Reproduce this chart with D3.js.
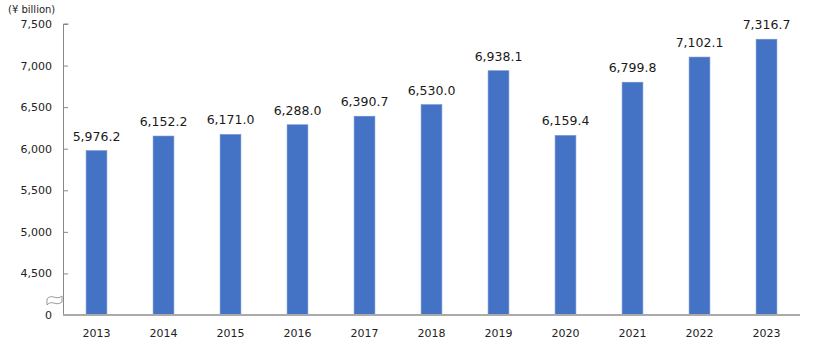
<!DOCTYPE html>
<html><head><meta charset="utf-8">
<script src="https://cdn.jsdelivr.net/npm/d3@7"></script>
<style>body{margin:0;background:#fff}svg{display:block}text{font-family:"DejaVu Sans",Verdana,sans-serif}</style>
</head><body>
<svg id="c" width="814" height="348"></svg>
<script>
const years = ["2013","2014","2015","2016","2017","2018","2019","2020","2021","2022","2023"];
const sales = [5976.2,6152.2,6171.0,6288.0,6390.7,6530.0,6938.1,6159.4,6799.8,7102.1,7316.7];
const yTicks = [4500,5000,5500,6000,6500,7000,7500];
const unitLabel = "(¥ billion)";

(function(){
const svg = d3.select("#c");
const mL = 63, mR = 800, mT = 24, mB = 315;
const x = d3.scaleBand().domain(years).range([mL, mR]).paddingInner(0.69).paddingOuter(0.345);
const y = d3.scaleLinear().domain([4000, 7500]).range([mB, mT]);
const fmt = d3.format(",.1f");

svg.append("g").selectAll("rect").data(sales).join("rect")
  .attr("x", (d,i)=>x(years[i]))
  .attr("width", x.bandwidth())
  .attr("y", d=>y(d))
  .attr("height", d=>mB - y(d))
  .attr("fill", "#4472C4")
  .attr("stroke", "#6a8fd4").attr("stroke-width", 0.6);

svg.append("g").selectAll("text").data(sales).join("text")
  .attr("x", (d,i)=>x(years[i]) + x.bandwidth()/2)
  .attr("y", d=>y(d) - 10)
  .attr("text-anchor","middle")
  .attr("font-size", 12.5).attr("font-weight", 500).attr("fill","#1a1a1a")
  .text(d=>fmt(d));

const yAxis = svg.append("g").attr("transform", `translate(${mL},0)`)
  .call(d3.axisRight(y).tickValues(yTicks).tickSize(5).tickFormat(d3.format(",")));
yAxis.select(".domain").attr("stroke","#888").attr("d", `M0.5,${mT}H5.5M0.5,${mT}V${mB}`);
yAxis.selectAll(".tick line").attr("stroke","#888");
yAxis.selectAll(".tick text").attr("x", -11).attr("text-anchor","end")
  .attr("font-size", 11).attr("fill","#222").attr("font-family","DejaVu Sans, sans-serif");
svg.append("text").attr("x", mL-11).attr("y", mB).attr("dy","0.32em")
  .attr("text-anchor","end").attr("font-size",11).attr("fill","#222").text("0");

const by = 300;
svg.append("path")
  .attr("d", `M47,${by-1} C52,${by-7} 56,${by+1} 62,${by-4} L62,${by+2} C56,${by+7} 52,${by-1} 47,${by+5} Z`)
  .attr("fill","#fff").attr("stroke","#999").attr("stroke-width",1);

const xAxis = svg.append("g").attr("transform", `translate(0,${mB})`)
  .call(d3.axisBottom(x).tickSize(0).tickPadding(14));
xAxis.select(".domain").attr("stroke","#aaa").attr("stroke-width",2).attr("d",`M${mL},0H${mR}`);
xAxis.selectAll(".tick text").attr("font-size", 11).attr("fill","#222").attr("font-family","DejaVu Sans, sans-serif");

svg.append("text").attr("x", 8).attr("y", 13).attr("font-size", 10).attr("fill","#222").text(unitLabel);
})();
</script>
</body></html>
